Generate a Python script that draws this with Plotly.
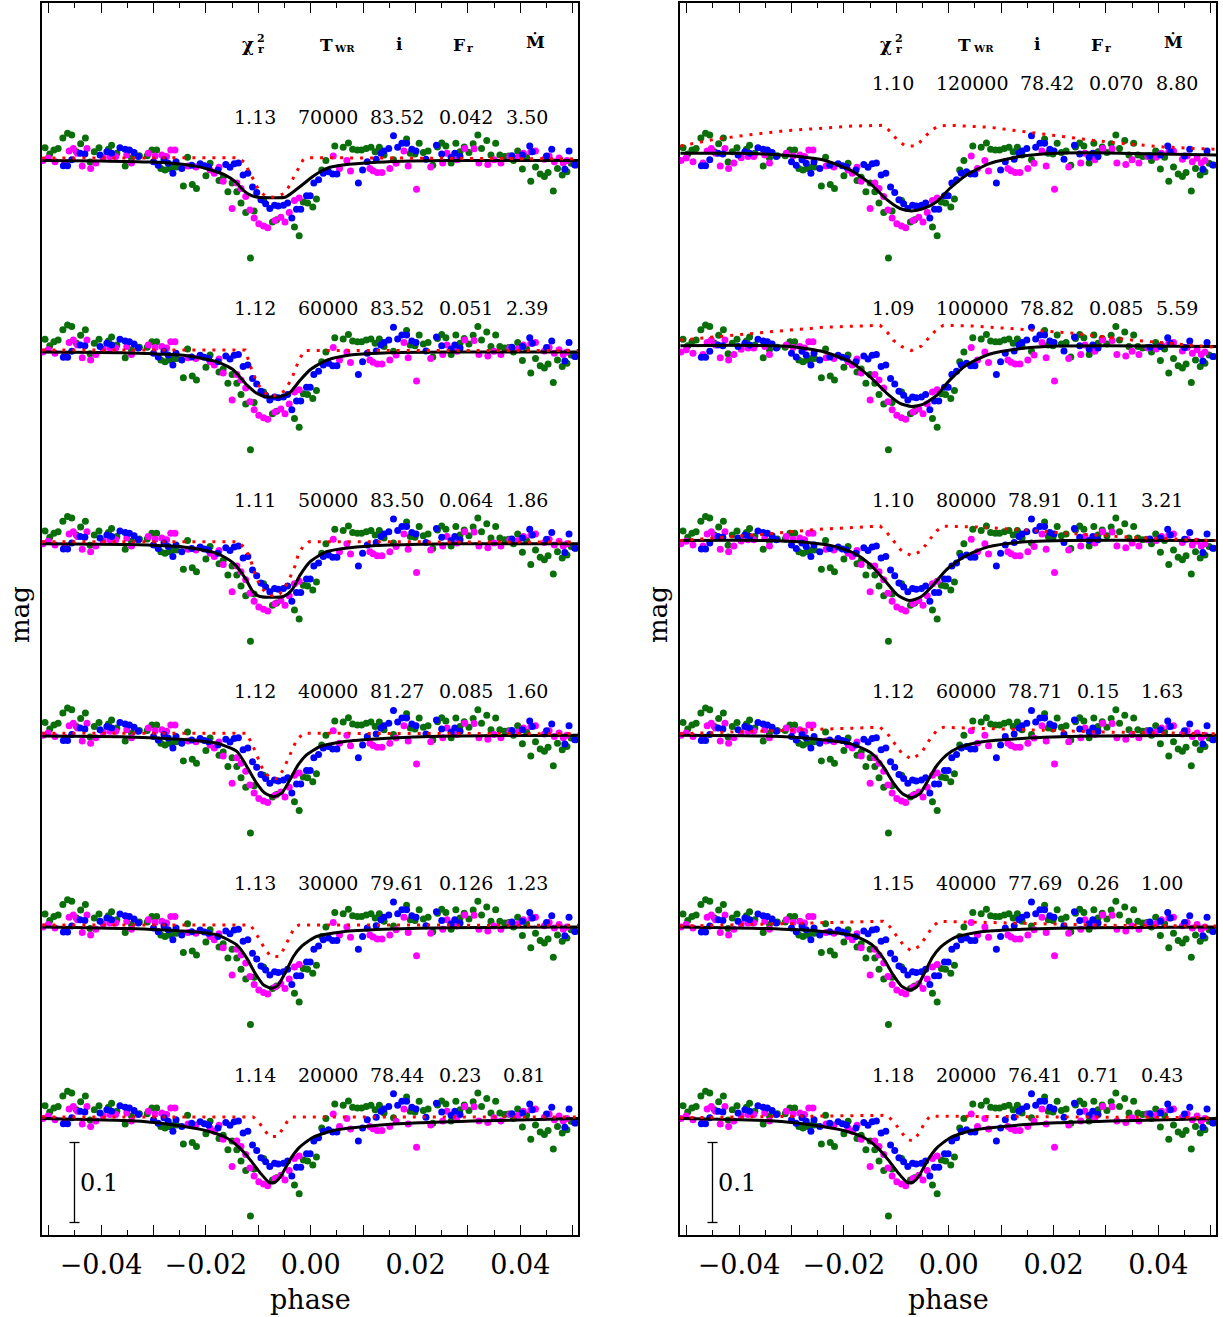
import numpy as np
import plotly.graph_objects as go

# ---------------- observed data (phase, delta-mag) ----------------
green_phase = [-0.0507,-0.0498,-0.0490,-0.0482,-0.0473,-0.0464,-0.0456,-0.0447,-0.0439,-0.0430,-0.0421,-0.0413,-0.0404,
               -0.0386,-0.0380,-0.0370,-0.0354,-0.0342,-0.0327,-0.0312,-0.0303,-0.0294,-0.0286,-0.0278,-0.0270,-0.0262,-0.0256,
               -0.0243,-0.0235,-0.0226,-0.0218,-0.0200,-0.0192,-0.0175,-0.0167,-0.0158,-0.0150,-0.0141,-0.0133,-0.0124,-0.0115,
               -0.0108,-0.0090,-0.0073,-0.0065,-0.0031,-0.0022,-0.0014,-0.0006,
               0.0004,0.0011,0.0021,0.0029,0.0046,0.0062,0.0072,0.0080,0.0089,0.0097,0.0106,0.0115,0.0123,0.0131,0.0140,0.0158,
               0.0183,0.0190,0.0199,0.0207,0.0215,0.0224,0.0233,0.0242,0.0250,0.0258,
               0.0268,0.0277,0.0285,0.0293,0.0302,0.0310,0.0319,0.0326,0.0336,0.0344,0.0353,0.0361,0.0370,0.0378,0.0387,0.0395,
               0.0404,0.0412,0.0420,0.0429,0.0438,0.0446,0.0453,0.0463,0.0471,0.0480,0.0489,0.0497,0.0506]
green_mag = [-0.016,-0.008,-0.013,-0.015,-0.028,-0.034,-0.032,-0.011,-0.021,-0.028,0.002,-0.011,-0.016,
             -0.014,-0.019,-0.009,0.007,-0.003,-0.006,-0.006,-0.013,-0.013,0.010,0.012,0.010,0.008,0.008,
             0.032,-0.004,0.030,0.035,0.019,0.0035,0.025,0.021,0.039,0.028,0.039,0.053,0.065,0.122,
             0.063,0.050,0.077,0.074,0.083,0.094,0.052,0.053,
             0.058,0.048,0.012,0.000,-0.018,-0.0165,-0.022,-0.014,-0.013,-0.013,-0.015,-0.0165,-0.011,-0.0165,-0.007,-0.001,
             -0.027,-0.009,-0.008,-0.0215,-0.010,-0.012,0.006,-0.017,-0.022,-0.018,
             0.003,-0.0215,-0.011,-0.017,-0.010,-0.021,-0.032,-0.015,-0.025,-0.007,-0.0215,-0.007,-0.005,-0.0056,0.000,-0.012,
             0.0106,-0.004,0.026,0.008,0.017,0.020,0.015,0.038,0.010,0.018,0.014,0.0035,0.0056]

blue_phase = [-0.0472,-0.0464,-0.0456,-0.0440,-0.0431,-0.0402,-0.0389,-0.0380,-0.0364,-0.0354,-0.0346,-0.0337,-0.0329,
              -0.0300,-0.0291,-0.0280,-0.0272,-0.0263,-0.0257,
              -0.0246,-0.0227,-0.0211,-0.0203,-0.0195,-0.0177,-0.0162,-0.0154,-0.0146,-0.0138,-0.0129,-0.0120,-0.0111,
              -0.0103,-0.0095,-0.0086,-0.0078,-0.0069,-0.0062,-0.0052,-0.0044,-0.0036,-0.0027,-0.0019,-0.0008,-0.0001,
              0.0006,0.0015,0.0024,0.0034,0.0042,0.0050,0.0091,0.0099,0.0108,0.0125,0.0134,0.0140,0.0149,0.0158,0.0166,
              0.0174,0.0183,0.0193,0.0201,0.0220,0.0240,0.0250,
              0.0268,0.0275,0.0285,0.0384,0.0404,0.0418,0.0423,0.0450,0.0460,0.0485,0.0493,0.0504]
blue_mag = [0.0065,0.0065,-0.001,-0.009,-0.008,-0.007,-0.011,-0.009,-0.016,-0.014,-0.013,-0.010,-0.005,
            0.0015,0.006,-0.001,0.0035,0.016,0.0015,
            0.010,0.006,0.004,0.0065,0.008,0.012,0.005,0.0085,0.004,0.003,0.018,0.016,0.033,
            0.040,0.049,0.054,0.060,0.056,0.057,0.056,0.053,0.072,0.061,0.061,0.044,0.044,
            0.028,0.024,0.016,0.014,0.017,0.017,0.028,0.012,0.0015,-0.0015,-0.009,-0.012,-0.015,-0.031,-0.0165,
            -0.0215,-0.0215,-0.014,-0.012,-0.0015,-0.019,-0.008,
            -0.004,-0.009,-0.005,-0.006,-0.007,-0.018,-0.011,-0.0056,-0.014,0.011,-0.012,0.0056]

magenta_phase = [-0.0511,-0.0501,-0.0488,-0.0469,-0.0461,-0.0453,-0.0445,-0.0436,-0.0427,-0.0420,-0.0410,-0.0396,-0.0383,
                 -0.0372,-0.0351,-0.0342,-0.0310,-0.0297,-0.0284,-0.0275,-0.0267,-0.0259,
                 -0.0234,-0.0219,-0.0192,-0.0184,-0.0175,-0.0167,-0.0150,-0.0141,-0.0133,-0.0124,-0.0116,-0.0108,-0.0099,
                 -0.0090,-0.0082,-0.0068,-0.0057,-0.0049,-0.0041,-0.0031,-0.0022,
                 0.0043,0.0055,0.0069,0.0076,0.0113,0.0119,0.0127,0.0136,0.0151,0.0163,0.0178,0.0186,0.0202,0.0229,0.0252,0.0260,
                 0.0279,0.0294,0.0312,0.0321,0.0338,0.0350,0.0363,0.0380,0.0396,0.0406,0.0420,0.0429,0.0446,0.0455,0.0465,
                 0.0474,0.0482,0.0489]
magenta_mag = [0.000,-0.003,0.0015,0.003,-0.012,-0.015,-0.009,0.007,-0.015,0.010,0.003,-0.0035,-0.005,
               -0.005,-0.007,0.003,-0.009,-0.0056,-0.007,-0.005,-0.013,-0.013,
               0.007,0.008,0.012,0.016,0.0085,0.026,0.060,0.028,0.035,0.045,0.062,0.072,0.079,
               0.082,0.084,0.075,0.071,0.077,0.065,0.050,0.047,
               -0.0056,0.010,0.000,0.013,0.010,0.0127,0.015,0.015,0.010,0.0035,-0.012,0.007,0.036,0.008,0.003,-0.009,
               -0.001,-0.015,-0.0146,0.003,0.005,-0.001,0.003,-0.005,-0.004,-0.009,-0.011,-0.012,-0.0015,-0.0056,0.0015,
               -0.003,0.003,0.000]

# ---------------- model curves (phase nodes, delta-mag) ----------------
L_black = [
 ([-0.0512,-0.040,-0.0303,-0.0255,-0.022,-0.0195,-0.0164,-0.0144,-0.0129,-0.0116,-0.0100,-0.0075,-0.0049,-0.0033,-0.0017,0.0002,0.0018,0.0037,0.0062,0.0126,0.019,0.026,0.0511],
  [0.0,0.0005,0.002,0.004,0.007,0.011,0.018,0.0265,0.037,0.043,0.046,0.0465,0.046,0.039,0.031,0.021,0.014,0.0085,0.0056,0.0023,0.0006,0.0,0.0]),
 ([-0.0512,-0.035,-0.0243,-0.0179,-0.0148,-0.0122,-0.0103,-0.0087,-0.0059,-0.0040,-0.0020,-0.0001,0.0031,0.0075,0.0139,0.0266,0.0511],
  [0.0,0.001,0.004,0.012,0.022,0.041,0.0515,0.0557,0.0557,0.0507,0.035,0.022,0.010,0.0036,0.001,0.0,0.0]),
 ([-0.0512,-0.035,-0.0243,-0.0179,-0.0148,-0.0125,-0.011,-0.0097,-0.0052,-0.0036,-0.002,-0.0001,0.003,0.0075,0.0139,0.0266,0.0511],
  [0.0,0.001,0.004,0.012,0.024,0.043,0.060,0.066,0.066,0.058,0.039,0.0225,0.010,0.005,0.002,0.0,0.0]),
 ([-0.0512,-0.035,-0.025,-0.0179,-0.0141,-0.0122,-0.0103,-0.0087,-0.0071,-0.0055,-0.004,-0.0024,-0.0008,0.0018,0.0062,0.0139,0.0266,0.0511],
  [0.001,0.002,0.005,0.010,0.020,0.039,0.060,0.0725,0.0767,0.072,0.056,0.037,0.0246,0.014,0.008,0.004,0.001,0.0]),
 ([-0.0512,-0.035,-0.025,-0.0179,-0.0141,-0.0122,-0.0106,-0.009,-0.0074,-0.0062,-0.0046,-0.0033,-0.0017,0.0011,0.0062,0.0139,0.0266,0.0511],
  [0.0,0.002,0.005,0.010,0.0226,0.039,0.058,0.0726,0.0767,0.0726,0.054,0.037,0.024,0.012,0.006,0.003,0.001,0.0]),
 ([-0.0512,-0.0319,-0.0253,-0.0201,-0.0161,-0.0135,-0.0115,-0.0095,-0.0079,-0.0069,-0.0056,-0.004,-0.0023,0.0003,0.0043,0.0109,0.0207,0.0339,0.0511],
  [0.0,0.0036,0.0088,0.015,0.024,0.037,0.052,0.069,0.080,0.080,0.071,0.052,0.037,0.024,0.015,0.0096,0.0054,0.0027,0.0]),
]
L_red = [
 ([-0.0512,-0.0138,-0.0125,-0.0118,-0.0108,-0.0100,-0.0086,-0.0067,-0.0050,-0.0040,-0.0031,-0.0022,-0.0014,-0.0005,0.0511],
  [-0.003,-0.0035,0.003,0.014,0.025,0.036,0.045,0.046,0.041,0.031,0.019,0.008,-0.0015,-0.0035,-0.002]),
 ([-0.0512,-0.0125,-0.0116,-0.011,-0.0102,-0.009,-0.0076,-0.0055,-0.0045,-0.0036,-0.0029,-0.0022,-0.0011,0.0511],
  [-0.0026,-0.0026,0.016,0.0265,0.039,0.0495,0.0557,0.052,0.043,0.033,0.020,0.009,-0.002,-0.002]),
 ([-0.0512,-0.0138,-0.0125,-0.0116,-0.0104,-0.0097,-0.0084,-0.007,-0.0059,-0.0045,-0.0036,-0.003,-0.0024,-0.0015,-0.0003,0.0511],
  [-0.0025,-0.0025,0.0058,0.018,0.041,0.053,0.062,0.066,0.063,0.05,0.037,0.028,0.0141,0.0037,-0.0025,-0.002]),
 ([-0.0512,-0.0122,-0.0113,-0.0104,-0.0097,-0.0089,-0.0076,-0.0062,-0.0051,-0.0043,-0.0034,-0.0027,-0.0014,0.0511],
  [-0.0025,-0.0025,0.010,0.0225,0.035,0.0455,0.054,0.054,0.041,0.029,0.0175,0.006,-0.0025,-0.002]),
 ([-0.0512,-0.0116,-0.0108,-0.0098,-0.0087,-0.0076,-0.006,-0.0049,-0.004,-0.003,-0.0022,0.0511],
  [-0.0025,-0.0025,0.004,0.015,0.028,0.037,0.037,0.025,0.012,0.000,-0.0025,-0.002]),
 ([-0.0512,-0.0110,-0.0102,-0.0089,-0.0079,-0.0063,-0.0053,-0.0043,-0.0035,0.0511],
  [-0.002,-0.002,0.002,0.013,0.0226,0.0226,0.013,0.002,-0.002,-0.002]),
]
R_black = [
 ([-0.0512,-0.040,-0.0303,-0.0239,-0.0188,-0.015,-0.0118,-0.0093,-0.0071,-0.0048,-0.0023,0.0002,0.0034,0.0079,0.0142,0.0206,0.030,0.0511],
  [-0.009,-0.009,-0.006,-0.0006,0.012,0.0285,0.049,0.060,0.063,0.060,0.0515,0.035,0.018,0.0035,-0.0056,-0.009,-0.0095,-0.007]),
 ([-0.0512,-0.040,-0.0303,-0.0239,-0.0188,-0.015,-0.0118,-0.0093,-0.0071,-0.0048,-0.0023,0.0002,0.0034,0.0079,0.0142,0.0206,0.030,0.0511],
  [-0.008,-0.0085,-0.007,-0.0005,0.012,0.031,0.0515,0.064,0.068,0.065,0.054,0.035,0.016,0.0024,-0.0047,-0.0076,-0.008,-0.007]),
 ([-0.0512,-0.035,-0.028,-0.022,-0.018,-0.015,-0.0122,-0.0098,-0.0075,-0.0052,-0.003,-0.0005,0.003,0.0075,0.014,0.022,0.0511],
  [-0.004,-0.004,-0.002,0.003,0.012,0.026,0.046,0.064,0.071,0.066,0.052,0.033,0.016,0.004,-0.002,-0.004,-0.004]),
 ([-0.0512,-0.035,-0.025,-0.0185,-0.0148,-0.0125,-0.0105,-0.0088,-0.0071,-0.0055,-0.004,-0.0024,-0.0005,0.002,0.0065,0.014,0.027,0.0511],
  [0.0,0.001,0.005,0.011,0.022,0.039,0.060,0.073,0.078,0.073,0.057,0.039,0.025,0.015,0.008,0.004,0.001,0.0]),
 ([-0.0512,-0.035,-0.025,-0.018,-0.0145,-0.0124,-0.0106,-0.009,-0.0074,-0.006,-0.0045,-0.0032,-0.0015,0.0012,0.0062,0.014,0.027,0.0511],
  [0.0,0.002,0.005,0.011,0.023,0.040,0.060,0.074,0.079,0.074,0.056,0.039,0.025,0.013,0.006,0.003,0.001,0.0]),
 ([-0.0512,-0.0319,-0.0253,-0.0201,-0.0161,-0.0135,-0.0115,-0.0095,-0.0079,-0.0069,-0.0056,-0.004,-0.0023,0.0003,0.0043,0.0109,0.0207,0.0339,0.0511],
  [0.0,0.0036,0.0088,0.015,0.024,0.037,0.052,0.069,0.080,0.080,0.071,0.052,0.037,0.024,0.015,0.0096,0.0054,0.0027,0.0]),
]
R_red = [
 ([-0.0512,-0.0447,-0.0381,-0.0315,-0.025,-0.0184,-0.0125,-0.0111,-0.0098,-0.0082,-0.0062,-0.0049,-0.0036,-0.0021,0.0001,0.0079,0.0145,0.0211,0.0277,0.0343,0.0409,0.0474,0.0511],
  [-0.018,-0.0265,-0.032,-0.037,-0.040,-0.043,-0.044,-0.036,-0.0256,-0.018,-0.018,-0.0265,-0.036,-0.043,-0.044,-0.0415,-0.036,-0.030,-0.025,-0.0206,-0.017,-0.015,-0.014]),
 ([-0.0512,-0.040,-0.0303,-0.0239,-0.0176,-0.0131,-0.0118,-0.0106,-0.009,-0.0071,-0.0052,-0.0039,-0.0023,-0.001,0.0047,0.0111,0.0174,0.0238,0.035,0.0511],
  [-0.015,-0.022,-0.0276,-0.031,-0.0326,-0.0335,-0.0255,-0.015,-0.007,-0.002,-0.0076,-0.0172,-0.0285,-0.0335,-0.0326,-0.0297,-0.0268,-0.0235,-0.015,-0.006]),
 ([-0.0512,-0.035,-0.025,-0.0131,-0.0118,-0.0104,-0.009,-0.0071,-0.0052,-0.0039,-0.0023,-0.001,0.005,0.015,0.025,0.035,0.0511],
  [-0.004,-0.012,-0.018,-0.022,-0.014,-0.002,0.009,0.015,0.009,-0.003,-0.016,-0.022,-0.021,-0.017,-0.012,-0.008,-0.004]),
 ([-0.0512,-0.03,-0.0131,-0.0118,-0.0104,-0.009,-0.0071,-0.0052,-0.0039,-0.0023,-0.001,0.01,0.03,0.0511],
  [-0.002,-0.006,-0.010,-0.003,0.010,0.022,0.030,0.022,0.008,-0.006,-0.010,-0.008,-0.004,-0.002]),
 ([-0.0512,-0.03,-0.0125,-0.0112,-0.0098,-0.0085,-0.0071,-0.0056,-0.0043,-0.003,-0.0018,0.01,0.03,0.0511],
  [-0.001,-0.004,-0.007,0.000,0.013,0.024,0.030,0.024,0.012,-0.001,-0.007,-0.005,-0.002,-0.001]),
 ([-0.0512,-0.025,-0.0118,-0.0105,-0.0092,-0.008,-0.0068,-0.0056,-0.0045,-0.0035,0.02,0.0511],
  [-0.001,-0.003,-0.004,0.004,0.016,0.026,0.028,0.018,0.004,-0.003,-0.002,-0.001]),
]

# fit-parameter labels: chi2_r, T_WR, i, F_r, Mdot
L_rows = [["1.13","70000","83.52","0.042","3.50"],
          ["1.12","60000","83.52","0.051","2.39"],
          ["1.11","50000","83.50","0.064","1.86"],
          ["1.12","40000","81.27","0.085","1.60"],
          ["1.13","30000","79.61","0.126","1.23"],
          ["1.14","20000","78.44","0.23","0.81"]]
R_rows = [["1.10","120000","78.42","0.070","8.80"],
          ["1.09","100000","78.82","0.085","5.59"],
          ["1.10","80000","78.91","0.11","3.21"],
          ["1.12","60000","78.71","0.15","1.63"],
          ["1.15","40000","77.69","0.26","1.00"],
          ["1.18","20000","76.41","0.71","0.43"]]

xtick_vals = [-0.05,-0.04,-0.03,-0.02,-0.01,0.0,0.01,0.02,0.03,0.04,0.05]
xtick_text = ["","\u22120.04","","\u22120.02","","0.00","","0.02","","0.04",""]

# ---------------- geometry ----------------
W, H = 1223, 1317
PX_PER_MAG = 800.0
BASE0_PY = 160.5
STEP_PY = 191.6
BOTTOM_BASE_PY = BASE0_PY + 5 * STEP_PY
def py_to_y(py):
    return (py - BOTTOM_BASE_PY) / PX_PER_MAG
offsets = [py_to_y(BASE0_PY + k * STEP_PY) for k in range(6)]
panel_left = [42, 680]
panel_right = [578, 1216]
zero_rel = 268.7
PX_PER_PHASE = 5240.0
def rel_to_phase(rel):
    return (rel - zero_rel) / PX_PER_PHASE
def paper_x(px):
    return px / W
def paper_y(py):
    return 1 - py / H

fig = go.Figure()
axes = [("x", "y"), ("x2", "y2")]

for p in range(2):
    xa, ya = axes[p]
    blacks = L_black if p == 0 else R_black
    reds = L_red if p == 0 else R_red
    for col, ph, mg in [("#0a6e0a", green_phase, green_mag),
                        ("#ff00ff", magenta_phase, magenta_mag),
                        ("#0000ff", blue_phase, blue_mag)]:
        xs = np.concatenate([np.array(ph) for k in range(6)])
        ys = np.concatenate([np.array(mg) + offsets[k] for k in range(6)])
        fig.add_trace(go.Scatter(x=xs, y=ys, mode="markers", xaxis=xa, yaxis=ya,
                                 marker=dict(color=col, size=7, line=dict(width=0)),
                                 showlegend=False, hoverinfo="skip"))
    for k in range(6):
        bx, by = blacks[k]
        fig.add_trace(go.Scatter(x=bx, y=np.array(by) + offsets[k], mode="lines", xaxis=xa, yaxis=ya,
                                 line=dict(color="black", width=3, shape="spline", smoothing=0.6),
                                 showlegend=False, hoverinfo="skip"))
        rx, ry = reds[k]
        fig.add_trace(go.Scatter(x=rx, y=np.array(ry) + offsets[k], mode="lines", xaxis=xa, yaxis=ya,
                                 line=dict(color="red", width=3, dash="3px,7px"),
                                 showlegend=False, hoverinfo="skip"))

# axes
yrange = [py_to_y(1235), py_to_y(3)]
ydom = [paper_y(1235), paper_y(3)]
xrange = [rel_to_phase(0), rel_to_phase(536)]
for p in range(2):
    xkey = "xaxis" if p == 0 else "xaxis2"
    ykey = "yaxis" if p == 0 else "yaxis2"
    fig.update_layout(**{
        xkey: dict(domain=[paper_x(panel_left[p]), paper_x(panel_right[p])], range=xrange,
                   anchor="y" if p == 0 else "y2",
                   showline=True, linecolor="black", linewidth=1.5, mirror="ticks",
                   ticks="inside", ticklen=10, tickwidth=1.2, tickcolor="black",
                   tickmode="array", tickvals=xtick_vals, ticktext=xtick_text,
                   minor=dict(tickmode="linear", tick0=0, dtick=0.005, ticks="inside",
                              ticklen=5, tickwidth=1.2, tickcolor="black", showgrid=False),
                   tickfont=dict(family="DejaVu Serif", size=27, color="black"),
                   ticklabelstandoff=5,
                   showgrid=False, zeroline=False, automargin=False),
        ykey: dict(domain=ydom, range=yrange, anchor="x" if p == 0 else "x2",
                   showline=True, linecolor="black", linewidth=1.5, mirror=True,
                   ticks="", showticklabels=False, showgrid=False, zeroline=False,
                   automargin=False),
    })

annotations = []
shapes = []

for p in range(2):
    left = panel_left[p]
    xa, ya = axes[p]
    # header symbols
    hdr = [("<b>\u03c7</b>", 206, 45, 18), ("<b>2</b>", 218.5, 38.5, 11), ("<b>r</b>", 218.5, 49.5, 11),
           ("<b>T</b>", 284.7, 44.7, 17), ("<b>WR</b>", 303, 48.5, 10),
           ("<b>i</b>", 357.5, 44, 17),
           ("<b>F</b>", 416.7, 44.7, 17), ("<b>r</b>", 428, 48.5, 11),
           ("<b>\u1e40</b>", 493.8, 42.5, 17)]
    for txt, rx, py, fs in hdr:
        annotations.append(dict(text=txt, x=paper_x(left + rx), y=paper_y(py), xref="paper", yref="paper",
                                xanchor="center", yanchor="middle", showarrow=False,
                                font=dict(family="DejaVu Serif", size=fs, color="black")))
    rows = L_rows if p == 0 else R_rows
    for k, row in enumerate(rows):
        d = 12.4 * (len(row[1]) - 5)
        starts = [190, 253.6, 326 + d, 395 + d, 462 + d - (3 if len(row[3]) == 4 else 0)]
        row_py = BASE0_PY + k * STEP_PY - 44
        if p == 1 and k == 0:
            row_py = 83.3
        for tok, rx in zip(row, starts):
            annotations.append(dict(text=tok, x=paper_x(left + rx), y=paper_y(row_py), xref="paper", yref="paper",
                                    xanchor="left", yanchor="middle", showarrow=False,
                                    font=dict(family="DejaVu Serif", size=19, color="black")))
    # axis titles
    annotations.append(dict(text="phase", x=paper_x(left + zero_rel), y=paper_y(1299), xref="paper", yref="paper",
                            xanchor="center", yanchor="middle", showarrow=False,
                            font=dict(family="DejaVu Serif", size=27, color="black")))
    annotations.append(dict(text="mag", x=paper_x(left - 22), y=paper_y(615), xref="paper", yref="paper",
                            xanchor="center", yanchor="middle", showarrow=False, textangle=-90,
                            font=dict(family="DejaVu Serif", size=26, color="black")))
    # 0.1 mag scale bar
    bx = rel_to_phase(32.5)
    cap = 5 / PX_PER_PHASE
    y0, y1 = py_to_y(BOTTOM_BASE_PY + 24), py_to_y(BOTTOM_BASE_PY + 104)
    shapes.append(dict(type="line", xref=xa, yref=ya, x0=bx, x1=bx, y0=y0, y1=y1, line=dict(color="black", width=1.3)))
    for yy in (y0, y1):
        shapes.append(dict(type="line", xref=xa, yref=ya, x0=bx - cap, x1=bx + cap, y0=yy, y1=yy,
                           line=dict(color="black", width=1.3)))
    annotations.append(dict(text="0.1", x=paper_x(left + 36), y=paper_y(1183), xref="paper", yref="paper",
                            xanchor="left", yanchor="middle", showarrow=False,
                            font=dict(family="DejaVu Serif", size=24, color="black")))

fig.update_layout(width=W, height=H, margin=dict(l=0, r=0, t=0, b=0),
                  paper_bgcolor="white", plot_bgcolor="white",
                  annotations=annotations, shapes=shapes, showlegend=False)

fig.write_html("out.html", config={"displayModeBar": False},
               post_script="document.body.style.margin='0px';document.body.style.overflow='hidden';")
